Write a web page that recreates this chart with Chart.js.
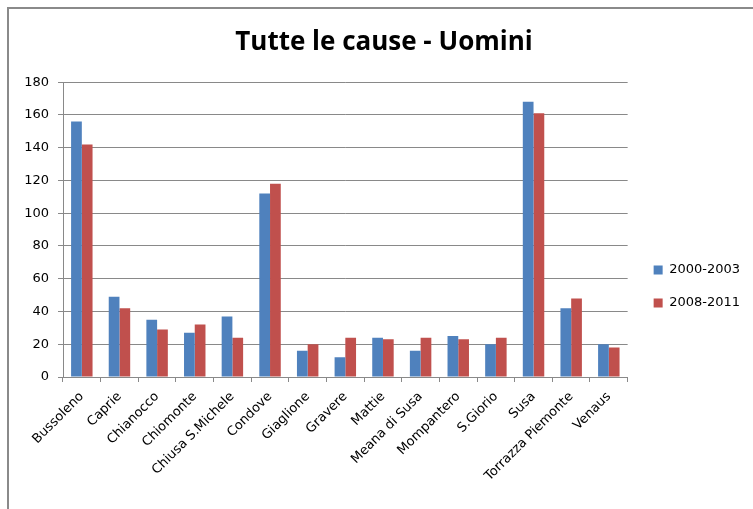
<!DOCTYPE html>
<html>
<head>
<meta charset="utf-8">
<script src="https://cdn.jsdelivr.net/npm/chart.js@4"></script>
<style>
  html, body { margin: 0; padding: 0; background: #fff; }
  #wrap { width: 753px; height: 509px; }
</style>
</head>
<body>
<div id="wrap"><canvas id="myChart" width="753" height="509"></canvas></div>
<script>
const comuni = ['Bussoleno', 'Caprie', 'Chianocco', 'Chiomonte', 'Chiusa S.Michele', 'Condove',
    'Giaglione', 'Gravere', 'Mattie', 'Meana di Susa', 'Mompantero', 'S.Giorio', 'Susa',
    'Torrazza Piemonte', 'Venaus'];
const periodi = ['2000-2003', '2008-2011'];
const val2000 = [156, 49, 35, 27, 37, 112, 16, 12, 24, 16, 25, 20, 168, 42, 20];
const val2008 = [142, 42, 29, 32, 24, 118, 20, 24, 23, 24, 23, 24, 161, 48, 18];
const yTicks = [0, 20, 40, 60, 80, 100, 120, 140, 160, 180];

const grigio = '#898989';

// cornice in alto e a sinistra, come nello screenshot di Excel
const cornice = {
    id: 'cornice',
    beforeDraw(chart) {
        const ctx = chart.ctx;
        ctx.save();
        ctx.strokeStyle = '#8a8a8a';
        ctx.lineWidth = 2;
        ctx.beginPath();
        ctx.moveTo(8, 509);
        ctx.lineTo(8, 8);
        ctx.lineTo(753, 8);
        ctx.stroke();
        ctx.restore();
    }
};

// sposto la legenda dove la mette Excel
const spostaLegenda = {
    id: 'spostaLegenda',
    afterLayout(chart) {
        const l = chart.legend;
        l.left += 6; l.right += 6;
        l.top += 32; l.bottom += 32;
    }
};

const data = {
    labels: comuni,
    datasets: [{
        label: periodi[0],
        data: val2000,
        backgroundColor: '#4F81BD'
    }, {
        label: periodi[1],
        data: val2008,
        backgroundColor: '#C0504D'
    }]
};

const config = {
    type: 'bar',
    data: data,
    options: {
        responsive: false,
        animation: false,
        layout: { padding: { left: 24, right: 9, top: 0, bottom: 0 } },
        datasets: {
            bar: { barPercentage: 1, categoryPercentage: 0.57 }
        },
        scales: {
            x: {
                grid: { offset: true, drawOnChartArea: false, color: grigio, tickLength: 5 },
                border: { color: grigio },
                ticks: {
                    color: '#000',
                    padding: 7,
                    font: { family: 'DejaVu Sans', size: 13 },
                    minRotation: 45, maxRotation: 45, autoSkip: false
                },
                afterFit(scale) { scale.height = 132; }
            },
            y: {
                min: 0, max: 180,
                afterBuildTicks(scale) { scale.ticks = yTicks.map(v => ({ value: v })); },
                grid: { color: grigio, tickLength: 5 },
                border: { color: grigio },
                ticks: {
                    color: '#000',
                    padding: 9,
                    font: { family: 'DejaVu Sans', size: 13 }
                },
                afterFit(scale) { scale.width = 39; }
            }
        },
        plugins: {
            title: {
                display: true,
                text: 'Tutte le cause - Uomini',
                color: '#000',
                font: { family: 'Open Sans', size: 26, weight: 'bold' },
                padding: { top: 27, bottom: 24 }
            },
            legend: {
                position: 'right',
                labels: {
                    color: '#000',
                    boxWidth: 9, boxHeight: 9,
                    padding: 20,
                    font: { family: 'DejaVu Sans', size: 13 }
                }
            },
            tooltip: { enabled: false }
        }
    },
    plugins: [cornice, spostaLegenda]
};

const myChart = new Chart(document.getElementById('myChart'), config);
</script>
</body>
</html>
